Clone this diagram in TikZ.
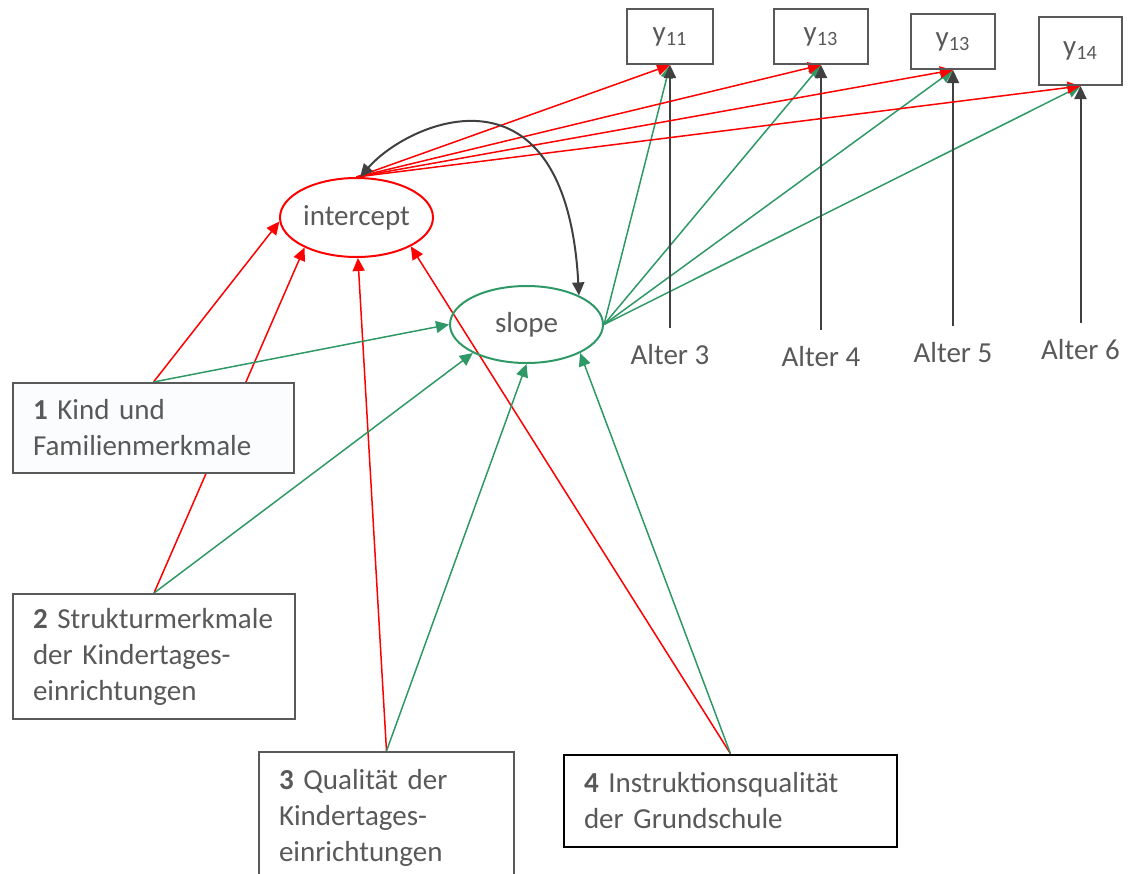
\documentclass[tikz,border=0pt]{standalone}
\usepackage{fontspec}
\setmainfont{Carlito}
\usepackage{xcolor}
\usepackage{tikz}
\usetikzlibrary{shapes.geometric, arrows.meta, backgrounds}
\definecolor{rouge}{RGB}{255,0,0}
\definecolor{vert}{RGB}{46,153,102}
\definecolor{gristexte}{RGB}{89,89,89}
\definecolor{grisfleche}{RGB}{64,64,64}
\definecolor{fondbleu}{RGB}{251,252,254}
\tikzstyle{box} = [rectangle,
draw=gristexte,
line width=1pt,
fill=white,
text=gristexte,
align=left,
inner xsep=10pt,
font=\fontsize{14.5pt}{18pt}\selectfont]
\tikzstyle{ybox} = [rectangle, draw=gristexte, line width=1pt, inner sep=2pt,
text=gristexte, font=\fontsize{14.5pt}{18pt}\selectfont]
\tikzstyle{latent} = [ellipse, line width=1pt, inner sep=0pt,
text=gristexte, font=\fontsize{14.5pt}{18pt}\selectfont]
\tikzstyle{age} = [text=gristexte, font=\fontsize{14.5pt}{18pt}\selectfont]
\tikzstyle{arrowred} = [rouge, line width=0.75pt, ->, >={Triangle[length=6.5pt,width=6pt]}]
\tikzstyle{arrowgreen} = [vert, line width=0.75pt, ->, >={Triangle[length=6.5pt,width=6pt]}]
\tikzstyle{arrowgray} = [grisfleche, line width=1pt, ->, >={Triangle[length=6.5pt,width=6pt]}]
\tikzstyle{covar} = [grisfleche, line width=1pt, <->, >={Triangle[length=6.5pt,width=6pt]}]

\begin{document}
\begin{tikzpicture}[x=0.5pt, y=-0.5pt]
\useasboundingbox (0,0) rectangle (1140,873);

% Variables observées (en haut)
\node[ybox, minimum width=43pt, minimum height=27.5pt] (y11) at (670,36.5) {y\textsubscript{11}};
\node[ybox, minimum width=47pt, minimum height=27.5pt] (y13a) at (821,36.5) {y\textsubscript{13}};
\node[ybox, minimum width=42pt, minimum height=27.5pt] (y13b) at (953,41.5) {y\textsubscript{13}};
\node[ybox, minimum width=41.5pt, minimum height=34pt] (y14) at (1080.5,51) {y\textsubscript{14}};

% Ages
\node[age] (alt3) at (670,355) {Alter 3};
\node[age] (alt4) at (821,357) {Alter 4};
\node[age] (alt5) at (953,353) {Alter 5};
\node[age] (alt6) at (1080.5,350) {Alter 6};

% Facteurs latents
\node[latent, draw=rouge, minimum width=76.5pt, minimum height=39.5pt] (intercept) at (356.5,217.5) {intercept};
\node[latent, draw=vert, minimum width=76.5pt, minimum height=38.5pt] (slope) at (526.5,324.5) {slope};

% Boîtes des prédicteurs
\node[box, fill=fondbleu, text width=120.5pt, minimum height=45pt] (kind) at (153.5,428) {\textbf{1} Kind und\\Familienmerkmale};
\node[box, text width=121pt, minimum height=62.5pt] (struktur) at (154,656.5) {\textbf{2} Strukturmerkmale\\der Kindertages-\\einrichtungen};
\node[box, text width=107.5pt, minimum height=66pt] (qualitaet) at (386.5,818) {\textbf{3} Qualität der\\Kindertages-\\einrichtungen};
\node[box, draw=black, line width=1.25pt, text width=146.5pt, minimum height=46pt] (instruktion) at (730.5,801) {\textbf{4} Instruktionsqualität\\der Grundschule};

\begin{scope}[on background layer]
% Prédicteurs vers intercept
\draw[arrowred] (kind.north) -- (intercept.183);
\draw[arrowred] (struktur.north) -- (intercept.210);
\draw[arrowred] (qualitaet.north) -- (intercept.272);
\draw[arrowred] (instruktion.north) -- (intercept.332);

% Prédicteurs vers slope
\draw[arrowgreen] (kind.north) -- (slope.west);
\draw[arrowgreen] (struktur.north) -- (slope.208);
\draw[arrowgreen] (qualitaet.north) -- (slope.south);
\draw[arrowgreen] (instruktion.north) -- (slope.332);

% slope vers les y
\draw[arrowgreen] (slope.east) -- (y11.south);
\draw[arrowgreen] (slope.east) -- (y13a.south);
\draw[arrowgreen] (slope.east) -- (y13b.south);
\draw[arrowgreen] (slope.east) -- (y14.south);

% Ages vers les y
\draw[arrowgray, shorten <=5pt] (alt3.north) -- (y11.south);
\draw[arrowgray, shorten <=5pt] (alt4.north) -- (y13a.south);
\draw[arrowgray, shorten <=5pt] (alt5.north) -- (y13b.south);
\draw[arrowgray, shorten <=5pt] (alt6.north) -- (y14.south);

% intercept vers les y
\draw[arrowred] (intercept.north) -- (y11.south);
\draw[arrowred] (intercept.north) -- (y13a.south);
\draw[arrowred] (intercept.north) -- (y13b.south);
\draw[arrowred] (intercept.north) -- (y14.south);
\end{scope}

% Covariance intercept - slope
\draw[covar] (intercept.85) .. controls +(50,-57) and +(-13,-241) .. (slope.29);

\end{tikzpicture}
\end{document}
